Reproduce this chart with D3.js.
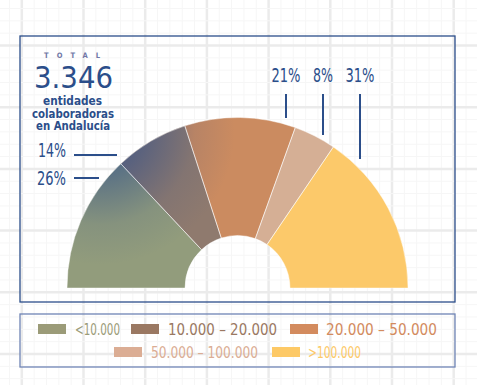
<!DOCTYPE html>
<html>
<head>
<meta charset="utf-8">
<script src="https://cdn.jsdelivr.net/npm/d3@7"></script>
<style>
  body { margin: 0; background: #fff; }
  svg { display: block; }
  text { font-family: "DejaVu Sans Condensed", "DejaVu Sans", sans-serif; }
</style>
</head>
<body>
<svg id="chart" width="477" height="385"></svg>
<script>
// Data
const categories = ['<10.000', '10.000 – 20.000', '20.000 – 50.000', '50.000 – 100.000', '>100.000'];
const shares = [26, 14, 21, 8, 31];
const colors = ['#929c7c', '#8f7a6e', '#cb8b60', '#d5af95', '#fcc96a'];
const legendColors = ['#9b9b78', '#9a7862', '#d38b5e', '#dbad94', '#fdc966'];
const totalLabel = 'TOTAL';
const totalValue = '3.346';
const totalText = ['entidades', 'colaboradoras', 'en Andalucía'];

const W = 477, H = 385;
const svg = d3.select('#chart');
const blue = '#2b4e8a';

// Background grid (major + minor)
const grid = svg.append('g').attr('class', 'grid');
const step = 61.7, x0 = 21.8, y0 = 45.5;
for (let i = -10; i < 60; i++) {
    const x = x0 + i * step / 5;
    if (x < 0 || x > W) continue;
    grid.append('line').attr('x1', x).attr('x2', x).attr('y1', 0).attr('y2', H)
        .attr('stroke', i % 5 === 0 ? '#ebebeb' : '#f6f6f6')
        .attr('stroke-width', i % 5 === 0 ? 2.5 : 1);
}
for (let i = -10; i < 60; i++) {
    const y = y0 + i * step / 5;
    if (y < 0 || y > H) continue;
    grid.append('line').attr('y1', y).attr('y2', y).attr('x1', 0).attr('x2', W)
        .attr('stroke', i % 5 === 0 ? '#ebebeb' : '#f6f6f6')
        .attr('stroke-width', i % 5 === 0 ? 2.5 : 1);
}

// Frames
svg.append('rect').attr('x', 20).attr('y', 36).attr('width', 435).attr('height', 266)
    .attr('fill', 'none').attr('stroke', blue).attr('stroke-width', 1.3);
svg.append('rect').attr('x', 20).attr('y', 314).attr('width', 435).attr('height', 53)
    .attr('fill', 'none').attr('stroke', '#6f84b5').attr('stroke-width', 1.3);

// Semi donut
const cx = 237.5, cy = 288, rOuter = 170.5, rInner = 52.5;
const pie = d3.pie().sort(null).startAngle(-Math.PI / 2).endAngle(Math.PI / 2);
const arc = d3.arc().innerRadius(rInner).outerRadius(rOuter);
const arcs = pie(shares);

const g = svg.append('g').attr('transform', `translate(${cx},${cy})`);

// blue tint coming from the upper left (in g coordinates)
const defs = svg.append('defs');
const grad = defs.append('radialGradient').attr('id', 'shade')
    .attr('gradientUnits', 'userSpaceOnUse')
    .attr('cx', 100 - cx).attr('cy', 130 - cy).attr('r', 135);
grad.append('stop').attr('offset', 0).attr('stop-color', '#2a4c8c').attr('stop-opacity', 0.85);
grad.append('stop').attr('offset', 0.35).attr('stop-color', '#2a4c8c').attr('stop-opacity', 0.5);
grad.append('stop').attr('offset', 0.7).attr('stop-color', '#2a4c8c').attr('stop-opacity', 0.12);
grad.append('stop').attr('offset', 1).attr('stop-color', '#2a4c8c').attr('stop-opacity', 0);

g.selectAll('path.slice').data(arcs).enter().append('path')
    .attr('class', 'slice')
    .attr('d', arc)
    .attr('fill', (d, i) => colors[i]);

const full = d3.arc().innerRadius(rInner).outerRadius(rOuter)
    .startAngle(-Math.PI / 2).endAngle(Math.PI / 2);
g.append('path').attr('d', full()).attr('fill', 'url(#shade)');

// thin light separators between slices
g.selectAll('path.sep').data(arcs).enter().append('path')
    .attr('class', 'sep')
    .attr('d', arc)
    .attr('fill', 'none')
    .attr('stroke', '#ffffff').attr('stroke-opacity', 0.55).attr('stroke-width', 0.8);

// Percentage labels
const labelColor = blue;
const leftLabels = [
    { i: 1, tx: 38, ty: 157, w: 28, x1: 74, x2: 117, y: 155 },
    { i: 0, tx: 37, ty: 185, w: 29, x1: 74, x2: 99, y: 178 }
];
leftLabels.forEach(l => {
    svg.append('text').attr('x', l.tx).attr('y', l.ty)
        .attr('textLength', l.w).attr('lengthAdjust', 'spacingAndGlyphs')
        .attr('fill', labelColor).attr('font-size', 19).text(shares[l.i] + '%');
    svg.append('line').attr('x1', l.x1).attr('x2', l.x2).attr('y1', l.y).attr('y2', l.y)
        .attr('stroke', labelColor).attr('stroke-width', 2);
});
const topLabels = [
    { i: 2, x: 286, w: 29, y2: 118 },
    { i: 3, x: 323, w: 20, y2: 135 },
    { i: 4, x: 360, w: 29, y2: 159 }
];
topLabels.forEach(l => {
    svg.append('text').attr('x', l.x - l.w / 2).attr('y', 82)
        .attr('textLength', l.w).attr('lengthAdjust', 'spacingAndGlyphs')
        .attr('fill', labelColor).attr('font-size', 19).text(shares[l.i] + '%');
    svg.append('line').attr('x1', l.x).attr('x2', l.x).attr('y1', 94).attr('y2', l.y2)
        .attr('stroke', labelColor).attr('stroke-width', 2);
});

// Total block
svg.append('text').attr('x', 44).attr('y', 58)
    .attr('textLength', 56).attr('lengthAdjust', 'spacing')
    .attr('fill', '#7077a6').attr('font-size', 7.5).attr('font-weight', 'bold')
    .text(totalLabel);
svg.append('text').attr('x', 34).attr('y', 88)
    .attr('textLength', 79).attr('lengthAdjust', 'spacingAndGlyphs')
    .attr('fill', blue).attr('font-size', 31).text(totalValue);
const textPos = [{ x: 43, w: 59 }, { x: 32, w: 82 }, { x: 36, w: 74 }];
totalText.forEach((t, k) => {
    svg.append('text').attr('x', textPos[k].x).attr('y', 105 + k * 12.5)
        .attr('textLength', textPos[k].w).attr('lengthAdjust', 'spacingAndGlyphs')
        .attr('fill', blue).attr('font-size', 11.5).attr('font-weight', 'bold').text(t);
});

// Legend
const legendPos = [
    { sx: 38, tx: 75, w: 45, y: 329 },
    { sx: 131, tx: 168, w: 109, y: 329 },
    { sx: 290, tx: 326, w: 111, y: 329 },
    { sx: 114, tx: 151, w: 107, y: 352 },
    { sx: 272, tx: 308, w: 53, y: 352 }
];
const legend = svg.append('g').attr('class', 'legend');
categories.forEach((c, i) => {
    const p = legendPos[i];
    legend.append('rect').attr('x', p.sx).attr('y', p.y - 5).attr('width', 28).attr('height', 10)
        .attr('fill', legendColors[i]);
    legend.append('text').attr('x', p.tx).attr('y', p.y + 6).attr('fill', legendColors[i])
        .attr('textLength', p.w).attr('lengthAdjust', 'spacingAndGlyphs')
        .attr('font-size', 15).text(c);
});
</script>
</body>
</html>
